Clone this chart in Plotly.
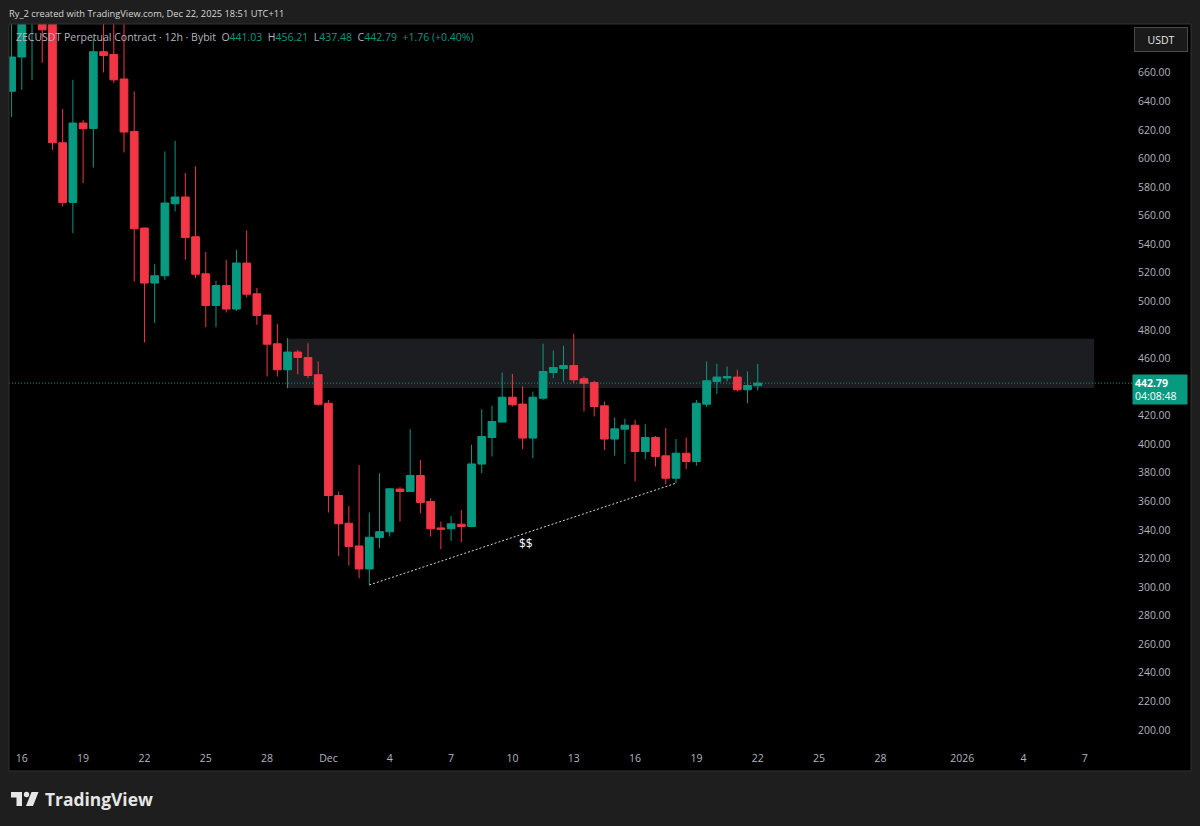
import plotly.graph_objects as go
import pandas as pd

# ---------------- data ----------------
times = pd.date_range("2025-11-15 12:00", periods=74, freq="12h")

opens = [647, 671, 705, 713, 697, 611, 569.2, 624.8, 621, 674.7,
         672.8, 655.6, 618.9, 551.3, 512.8, 517.9, 568.3, 573, 545.2, 519.3,
         497.1, 511.1, 494.6, 526.8, 505.3, 490.4, 470.3, 452.1, 464.5, 460.7,
         448.6, 428.7, 364.1, 344.7, 328.8, 312.7, 334.6, 338.7, 368.6, 366.9,
         378.1, 359.9, 341.4, 340.8, 344.0, 342.4, 386.1, 404.7, 415.5, 432.9,
         428.1, 404.3, 432.2, 450.2, 453.0, 455.1, 445.8, 443.2, 426.9, 403.6,
         410.5, 413.3, 394.9, 404.7, 391.9, 376.2, 393.7, 387.9, 428.0, 443.9,
         446.3, 447.0, 438.1, 441.03]
highs = [700, 718, 728, 722, 702, 634.6, 655, 627, 684, 700,
         698, 697, 646.9, 551.5, 526, 604.9, 612.4, 589.8, 594.4, 534.5,
         514.4, 529.1, 536.1, 549.6, 509.3, 490.6, 484.3, 474.3, 466.1, 470.7,
         457.9, 431, 366.9, 356.8, 385.5, 352.2, 379.7, 369, 370, 410.5,
         389, 362.2, 345.9, 349.8, 354, 399.6, 424.5, 426.9, 450.2, 449.1,
         440.4, 436.9, 470.3, 465.6, 468.9, 477.3, 447.4, 444.4, 429.9, 418.7,
         417.8, 417.1, 414.0, 405.8, 411.2, 403.6, 404.7, 431, 457.9, 456.3,
         454.4, 452.1, 450.9, 456.21]
lows = [629, 648, 655, 667, 606, 566.4, 547.8, 582.8, 593.7, 660.2,
        652.8, 604.2, 513.9, 471.2, 484.8, 515, 562.9, 529.1, 516.2, 482,
        482, 492.2, 493.4, 502.7, 483.6, 447.4, 447.4, 439.2, 449, 446.2,
        426.9, 352.2, 321.8, 315.1, 306.2, 301.5, 327.2, 335.4, 345.9, 366.5,
        351.7, 335.4, 326.5, 332.3, 331.4, 342, 379.7, 391.4, 415.3, 426.4,
        396.6, 390.2, 431, 446.2, 443.9, 442.7, 422.9, 419.4, 396, 392,
        386.2, 373.9, 389.5, 384.4, 372, 372.7, 382.7, 385, 426, 435.2,
        443.9, 436.9, 428.7, 437.48]
closes = [671, 705, 713, 690, 611, 569.2, 624.8, 620.8, 674.7, 672.1,
          655, 618.5, 550.8, 512.8, 517.9, 568.8, 573, 544.7, 519, 497.1,
          511.1, 494.6, 526.8, 505, 490.1, 470, 452.1, 464.5, 460.7, 448.1,
          428, 364.1, 344.3, 328.4, 312.7, 334.9, 338.8, 368.8, 366.9, 378.1,
          359.3, 340.8, 340.5, 344.3, 342.4, 386.2, 405.4, 415.9, 432.9, 427.6,
          404.3, 432.9, 450.9, 453.7, 455.1, 445.1, 442.7, 426.4, 403.6, 410.8,
          413.3, 394.9, 404.7, 391.4, 376.2, 393.7, 387.9, 428.7, 444.4, 447.0,
          447.4, 438.1, 441.1, 442.79]

x_tick_dates = ["2025-11-16", "2025-11-19", "2025-11-22", "2025-11-25", "2025-11-28",
                "2025-12-01", "2025-12-04", "2025-12-07", "2025-12-10", "2025-12-13",
                "2025-12-16", "2025-12-19", "2025-12-22", "2025-12-25", "2025-12-28",
                "2026-01-01", "2026-01-04", "2026-01-07"]
x_tick_labels = ["16", "19", "22", "25", "28", "Dec", "4", "7", "10", "13",
                 "16", "19", "22", "25", "28", "2026", "4", "7"]
# 440.00 is hidden behind the last-price tag in the reference
y_tick_values = [200, 220, 240, 260, 280, 300, 320, 340, 360, 380, 400, 420,
                 460, 480, 500, 520, 540, 560, 580, 600, 620, 640, 660]
y_tick_labels = ["%.2f" % v for v in y_tick_values]

last_price = 442.79
countdown = "04:08:48"
legend_ohlc = ["441.03", "456.21", "437.48", "442.79"]
legend_change = "+1.76 (+0.40%)"

zone_start, zone_end = "2025-11-29 00:00", "2026-01-07 11:00"
zone_low, zone_high = 439.3, 473.8
trend_start = ("2025-12-03 00:00", 301.5)
trend_end = ("2025-12-18 00:00", 372.7)
trend_label_pos = ("2025-12-10 16:00", 330.2)

# ---------------- styling ----------------
GREEN = "#089981"
RED = "#f23645"
TXT = "#b2b5be"
FONT = "Open Sans"
PAPER = "#1e1e1e"

PL, PR, PT, PB = 9, 1191, 24, 771


def px(x):
    return (x - PL) / (PR - PL)


def py(y):
    return (PB - y) / (PB - PT)


fig = go.Figure()
fig.add_trace(go.Candlestick(
    x=times, open=opens, high=highs, low=lows, close=closes,
    increasing=dict(line=dict(color=GREEN, width=1), fillcolor=GREEN),
    decreasing=dict(line=dict(color=RED, width=1), fillcolor=RED),
    whiskerwidth=0, hoverinfo="skip", showlegend=False,
))

shapes = [
    # supply zone
    dict(type="rect", xref="x", yref="y", x0=zone_start, x1=zone_end,
         y0=zone_low, y1=zone_high, fillcolor="#1c1d20", line=dict(width=0),
         layer="below"),
    # last price line
    dict(type="line", xref="paper", yref="y", x0=0, x1=px(1132),
         y0=last_price, y1=last_price, line=dict(color=GREEN, width=1, dash="1px,2px")),
    # trend line
    dict(type="line", xref="x", yref="y", x0=trend_start[0], y0=trend_start[1],
         x1=trend_end[0], y1=trend_end[1],
         line=dict(color="#d1d4dc", width=1, dash="2px,2px")),
    # panel border
    dict(type="rect", xref="paper", yref="paper", x0=0, x1=1, y0=0, y1=1,
         line=dict(color="#333333", width=1), fillcolor="rgba(0,0,0,0)"),
    # TradingView logo
    dict(type="path", xref="paper", yref="paper",
         path="M %f,%f L %f,%f L %f,%f L %f,%f L %f,%f L %f,%f Z" % (
             px(11), py(792), px(22), py(792), px(22), py(806),
             px(16.5), py(806), px(16.5), py(797.5), px(11), py(797.5)),
         fillcolor="#e6e6e6", line=dict(width=0)),
    dict(type="circle", xref="paper", yref="paper",
         x0=px(23.8), x1=px(29.2), y0=py(797.2), y1=py(791.8),
         fillcolor="#e6e6e6", line=dict(width=0)),
    dict(type="path", xref="paper", yref="paper",
         path="M %f,%f L %f,%f L %f,%f L %f,%f Z" % (
             px(31.5), py(792), px(38.5), py(792), px(33), py(806), px(26), py(806)),
         fillcolor="#e6e6e6", line=dict(width=0)),
]

sp = "&nbsp;"
legend_text = (
    "ZECUSDT Perpetual Contract · 12h · Bybit" + sp + sp
    + "O<span style='color:%s'>%s</span>" % (GREEN, legend_ohlc[0]) + sp + sp
    + "H<span style='color:%s'>%s</span>" % (GREEN, legend_ohlc[1]) + sp + sp
    + "L<span style='color:%s'>%s</span>" % (GREEN, legend_ohlc[2]) + sp + sp
    + "C<span style='color:%s'>%s</span>" % (GREEN, legend_ohlc[3]) + sp + sp
    + "<span style='color:%s'>%s</span>" % (GREEN, legend_change)
)

annotations = [
    dict(xref="paper", yref="paper", x=px(7), y=py(13), xanchor="left", yanchor="middle",
         text="Ry_2 created with TradingView.com, Dec 22, 2025 18:51 UTC+11",
         showarrow=False, font=dict(family=FONT, size=9.3, color="#d6d6d6")),
    dict(xref="paper", yref="paper", x=px(14), y=py(37), xanchor="left", yanchor="middle",
         text=legend_text, showarrow=False, font=dict(family=FONT, size=10.5, color=TXT)),
    dict(xref="paper", yref="paper", x=px(1161), y=py(39), xanchor="center", yanchor="middle",
         text="USDT", showarrow=False, bgcolor="#1a1a1a", bordercolor="#4a4a4a",
         borderwidth=1, borderpad=2, width=48, height=19,
         font=dict(family=FONT, size=10.5, color="#e6e6e6")),
    dict(xref="paper", yref="y", x=px(1132), y=438.6, xanchor="left", yanchor="middle",
         text="<b>%.2f</b><br>%s" % (last_price, countdown), showarrow=False,
         bgcolor=GREEN, borderpad=2, width=50, height=25, align="left",
         font=dict(family=FONT, size=10.5, color="#ffffff")),
    dict(xref="x", yref="y", x=trend_label_pos[0], y=trend_label_pos[1],
         text="&#36;&#36;", showarrow=False,
         font=dict(family=FONT, size=12, color="#ffffff")),
    dict(xref="paper", yref="paper", x=px(43), y=py(799), xanchor="left", yanchor="middle",
         text="<b>TradingView</b>", showarrow=False,
         font=dict(family=FONT, size=17.4, color="#e6e6e6")),
]

fig.update_layout(
    width=1200, height=826,
    margin=dict(l=PL, r=1200 - PR, t=PT, b=826 - PB, pad=0),
    paper_bgcolor=PAPER, plot_bgcolor="#000000",
    boxgap=0.13, boxgroupgap=0.13,
    showlegend=False,
    shapes=shapes, annotations=annotations,
    font=dict(family=FONT, color=TXT),
    xaxis=dict(
        type="date", range=["2025-11-15 09:00", "2026-01-12 04:38"],
        rangeslider=dict(visible=False), showgrid=False, zeroline=False,
        showline=False, ticks="", tickvals=x_tick_dates, ticktext=x_tick_labels,
        ticklabelposition="inside", ticklabelstandoff=4, automargin=False,
        tickfont=dict(family=FONT, size=10.5, color=TXT), fixedrange=True,
    ),
    yaxis=dict(
        side="right", anchor="free", position=px(1137),
        range=[171.3, 694.1], showgrid=False, zeroline=False,
        showline=False, ticks="", tickvals=y_tick_values, ticktext=y_tick_labels,
        ticklabelposition="outside", automargin=False,
        tickfont=dict(family=FONT, size=10.4, color=TXT), fixedrange=True,
    ),
)

fig.write_html(
    "out.html",
    config={"displayModeBar": False},
    post_script="document.body.style.margin='0';document.body.style.background='%s';" % PAPER,
)
